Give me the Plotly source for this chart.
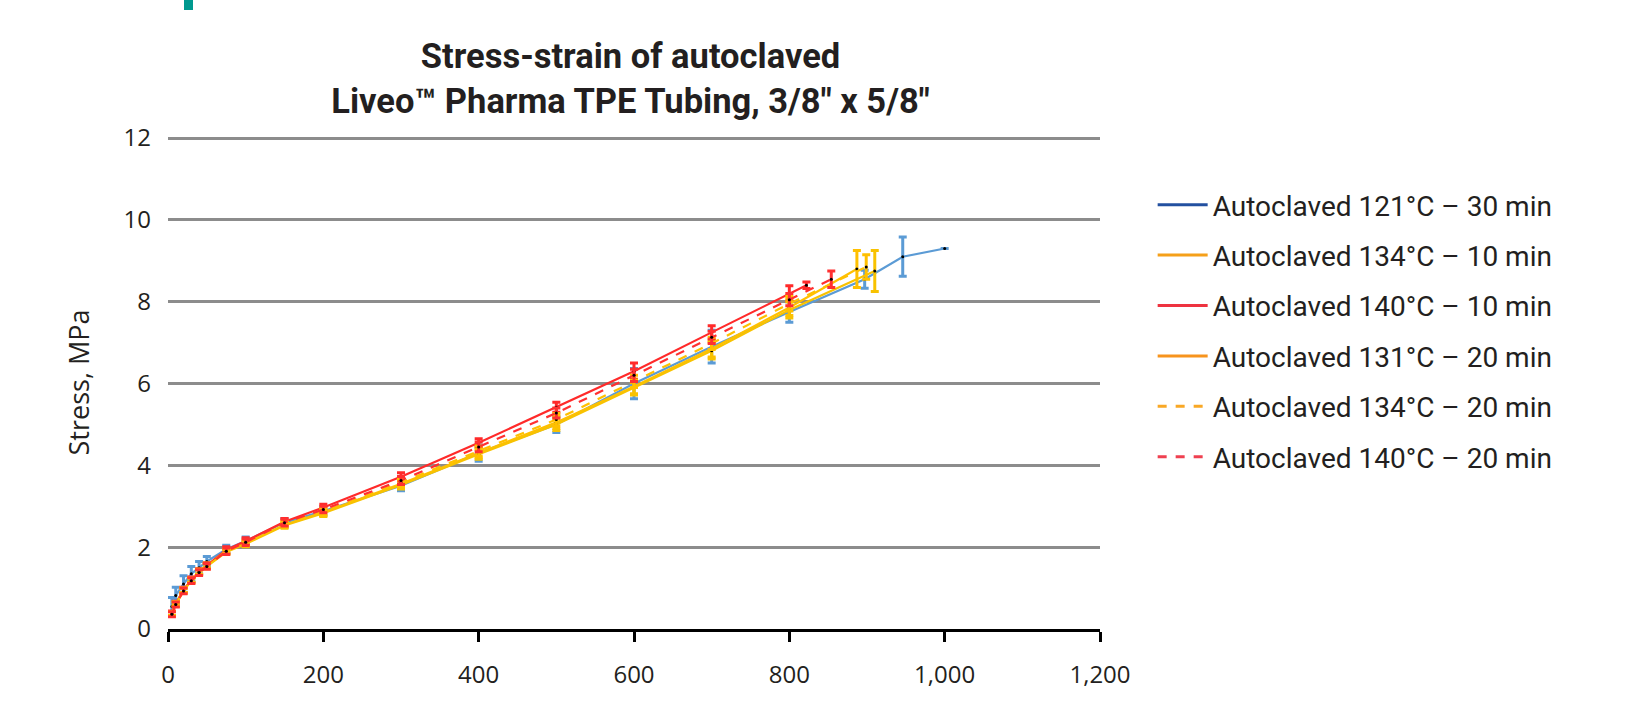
import plotly.graph_objects as go

# ---------------- data ----------------
strain_common = [5, 10, 20, 30, 40, 50, 75, 100, 150, 200, 300, 400, 500, 600, 700, 800]

strain_121_30 = strain_common + [897, 946, 1000]
stress_121_30 = [0.55, 0.82, 1.10, 1.35, 1.50, 1.65, 1.95, 2.15, 2.60, 2.88, 3.50, 4.30, 5.00, 6.00, 6.90, 7.75, 8.55, 9.10, 9.30]
err_121_30 = [0.22, 0.20, 0.20, 0.18, 0.15, 0.12, 0.10, 0.10, 0.10, 0.10, 0.12, 0.20, 0.20, 0.37, 0.40, 0.25, 0.22, 0.48, 0.0]

strain_134_10 = strain_common + [887]
stress_134_10 = [0.38, 0.62, 0.95, 1.20, 1.40, 1.55, 1.90, 2.10, 2.55, 2.85, 3.55, 4.30, 5.05, 5.93, 6.85, 7.86, 8.80]
err_134_10 = [0.05, 0.05, 0.06, 0.06, 0.06, 0.06, 0.06, 0.07, 0.07, 0.08, 0.10, 0.12, 0.15, 0.18, 0.20, 0.20, 0.45]

strain_140_10 = strain_common + [822]
stress_140_10 = [0.38, 0.62, 0.95, 1.20, 1.40, 1.55, 1.93, 2.15, 2.62, 2.97, 3.72, 4.55, 5.42, 6.30, 7.25, 8.20, 8.40]
err_140_10 = [0.06, 0.06, 0.07, 0.07, 0.07, 0.07, 0.08, 0.08, 0.08, 0.08, 0.10, 0.10, 0.12, 0.20, 0.16, 0.19, 0.08]

strain_131_20 = strain_common + [910]
stress_131_20 = [0.37, 0.60, 0.93, 1.18, 1.38, 1.53, 1.88, 2.08, 2.53, 2.83, 3.52, 4.27, 5.00, 5.90, 6.80, 7.80, 8.75]
err_131_20 = [0.05, 0.05, 0.06, 0.06, 0.06, 0.06, 0.06, 0.07, 0.07, 0.08, 0.10, 0.12, 0.15, 0.18, 0.20, 0.20, 0.50]

strain_134_20 = strain_common + [899]
stress_134_20 = [0.38, 0.62, 0.95, 1.20, 1.40, 1.55, 1.90, 2.10, 2.57, 2.87, 3.58, 4.35, 5.12, 6.05, 6.98, 7.95, 8.85]
err_134_20 = [0.05, 0.05, 0.06, 0.06, 0.06, 0.06, 0.06, 0.07, 0.07, 0.08, 0.10, 0.12, 0.15, 0.15, 0.15, 0.18, 0.30]

strain_140_20 = strain_common + [854]
stress_140_20 = [0.36, 0.60, 0.93, 1.18, 1.38, 1.53, 1.90, 2.12, 2.60, 2.92, 3.63, 4.45, 5.28, 6.20, 7.13, 8.05, 8.55]
err_140_20 = [0.06, 0.06, 0.07, 0.07, 0.07, 0.07, 0.08, 0.08, 0.08, 0.08, 0.10, 0.12, 0.12, 0.15, 0.15, 0.15, 0.20]

series_names = [
    "Autoclaved 121°C – 30 min",
    "Autoclaved 134°C – 10 min",
    "Autoclaved 140°C – 10 min",
    "Autoclaved 131°C – 20 min",
    "Autoclaved 134°C – 20 min",
    "Autoclaved 140°C – 20 min",
]
x_ticks = [0, 200, 400, 600, 800, 1000, 1200]
y_ticks = [0, 2, 4, 6, 8, 10, 12]

# ---------------- styles ----------------
series = [
    (strain_121_30, stress_121_30, err_121_30, "#5b9bd5", "solid", "#2350a0"),
    (strain_134_10, stress_134_10, err_134_10, "#ffc000", "solid", "#f5a01a"),
    (strain_140_10, stress_140_10, err_140_10, "#ff2a2a", "solid", "#ee3340"),
    (strain_131_20, stress_131_20, err_131_20, "#f8c200", "solid", "#f7941d"),
    (strain_134_20, stress_134_20, err_134_20, "#ffc000", "dash", "#f9a825"),
    (strain_140_20, stress_140_20, err_140_20, "#ff3030", "dash", "#ef4050"),
]

fig = go.Figure()
for name, (xs, ys, es, col, dash, lcol) in zip(series_names, series):
    fig.add_trace(go.Scatter(
        x=xs, y=ys, mode="lines+markers", showlegend=False, name=name,
        line=dict(color=col, width=2.2, dash=dash),
        marker=dict(color="black", size=3),
        error_y=dict(type="data", array=es, visible=True, color=col, thickness=3, width=4),
    ))

for i, (name, (xs, ys, es, col, dash, lcol)) in enumerate(zip(series_names, series)):
    fig.add_trace(go.Scatter(
        x=[None], y=[None], mode="lines", name=name, legendgroup=f"g{i}",
        line=dict(color=lcol, width=3, dash=dash),
    ))

tick_font = dict(family="Open Sans, sans-serif", size=24, color="#231f20")

fig.update_layout(
    width=1648, height=712,
    paper_bgcolor="white", plot_bgcolor="white",
    margin=dict(l=168, r=548, t=136, b=83, autoexpand=False),
    title=dict(
        text="Stress-strain of autoclaved<br>Liveo™ Pharma TPE Tubing, 3/8\" x 5/8\"",
        x=0.3826, xanchor="center", y=1 - 68 / 712, yanchor="middle",
        font=dict(family="Roboto, sans-serif", size=34.5, color="#231f20", weight="bold"),
    ),
    legend=dict(
        x=1.0565, xanchor="left", y=0.9107, yanchor="top",
        font=dict(family="Roboto, sans-serif", size=28, color="#231f20"),
        tracegroupgap=11, itemwidth=50, bgcolor="rgba(0,0,0,0)",
    ),
    xaxis=dict(
        range=[0, 1200], tickvals=x_ticks, tickformat=",d", automargin=False,
        showline=True, linecolor="black", linewidth=3,
        ticks="outside", ticklen=10, tickwidth=2.5, tickcolor="black",
        showgrid=False, zeroline=False, tickfont=tick_font, ticklabelstandoff=12,
    ),
    yaxis=dict(
        range=[0, 12.05], tickvals=y_ticks, automargin=False,
        showline=False, ticks="", showgrid=True, gridcolor="#8c8c8c", gridwidth=2.5,
        zeroline=False, tickfont=tick_font, ticklabelstandoff=16,
        title=dict(text="Stress, MPa", font=dict(family="Open Sans, sans-serif", size=27, color="#231f20"), standoff=26),
    ),
    shapes=[dict(type="rect", xref="paper", yref="paper",
                 x0=(184 - 168) / 932, x1=(193 - 168) / 932,
                 y0=(629 - 10) / 493, y1=(629 + 5) / 493,
                 fillcolor="#00998f", line=dict(width=0))],
)

fig.write_html("out.html", config={"displayModeBar": False},
               post_script="document.body.style.margin='0';")
